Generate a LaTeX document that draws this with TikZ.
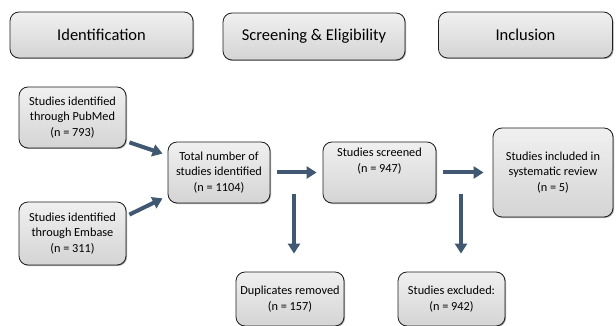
\documentclass[tikz,border=0pt]{standalone}
\usepackage{fontspec}
\setmainfont{Carlito}
\usetikzlibrary{arrows.meta,shadows}
\definecolor{arrowblue}{RGB}{64,88,114}
\definecolor{boxtop}{RGB}{240,240,240}
\definecolor{boxbot}{RGB}{212,212,212}
\definecolor{boxline}{RGB}{30,30,30}
\tikzset{
  box/.style={draw=boxline, line width=0.8pt, rounded corners=9pt,
    top color=boxtop, bottom color=boxbot, align=center, inner sep=2pt,
    drop shadow={shadow xshift=1pt, shadow yshift=-1pt, opacity=0.35, fill=black}},
  headbox/.style={box, font=\fontsize{16.5}{18}\selectfont},
  stepbox/.style={box, font=\fontsize{12.3}{15.5}\selectfont},
  flow/.style={draw=arrowblue, line width=4pt,
    -{Triangle[length=10pt,width=12pt]}}
}
\begin{document}
\begin{tikzpicture}[x=1pt,y=-1pt]
\useasboundingbox (0,0) rectangle (616,326);
% header boxes
\node[headbox, minimum width=183pt, minimum height=46pt] (ident) at (101.5,35) {Identification};
\node[headbox, minimum width=182pt, minimum height=47pt] (screen) at (314,36.5) {Screening \& Eligibility};
\node[headbox, minimum width=174pt, minimum height=46pt] (incl) at (525.5,35) {Inclusion};
% step boxes
\node[stepbox, minimum width=107pt, minimum height=61pt] (pub) at (72.5,117.5) {Studies identified\\through PubMed\\(n = 793)};
\node[stepbox, minimum width=107pt, minimum height=63pt] (emb) at (72.5,233.5) {Studies identified\\through Embase\\(n = 311)};
\node[stepbox, minimum width=102pt, minimum height=61pt] (total) at (219,172.5) {Total number of\\studies identified\\(n = 1104)};
\node[stepbox, minimum width=113pt, minimum height=61pt] (scr) at (379.5,172.5) {Studies screened\\(n = 947)\\[9pt]};
\node[stepbox, minimum width=120pt, minimum height=89pt] (inc) at (553,172.5) {Studies included in\\systematic review\\(n = 5)};
\node[stepbox, minimum width=108pt, minimum height=54pt] (dup) at (290,299) {Duplicates removed\\(n = 157)};
\node[stepbox, minimum width=107pt, minimum height=54pt] (exc) at (451.5,299) {Studies excluded:\\(n = 942)};
% connectors
\draw[flow] ([shift={(3,-6)}]pub.south east) -- ([shift={(-5,12)}]total.north west);
\draw[flow] ([shift={(3,13)}]emb.north east) -- ([shift={(-5,-5)}]total.south west);
\draw[flow, shorten <=7pt, shorten >=6pt] (total.east) -- (scr.west);
\draw[flow, shorten <=7pt, shorten >=9pt] (scr.east) -- (inc.west);
\coordinate (dupsrc) at ([shift={(4,-78)}]dup.north);
\coordinate (excsrc) at ([shift={(9.5,-78)}]exc.north);
\draw[flow] (dupsrc) -- ([shift={(4,-18)}]dup.north);
\draw[flow] (excsrc) -- ([shift={(9.5,-18)}]exc.north);
\end{tikzpicture}
\end{document}
